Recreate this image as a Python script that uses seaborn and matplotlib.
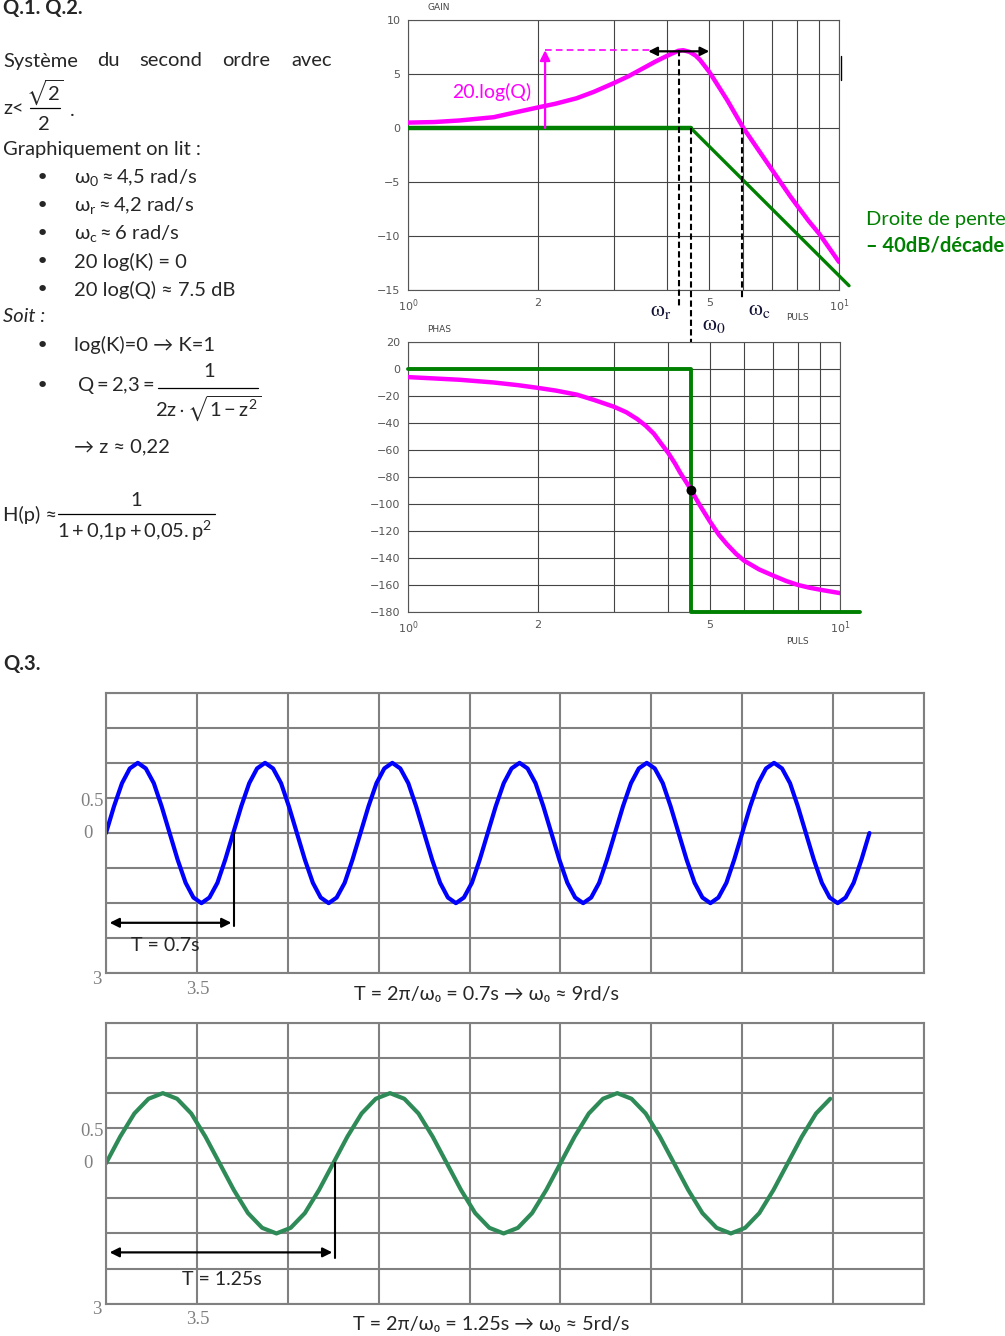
import matplotlib
matplotlib.use("Agg")
import matplotlib.pyplot as plt
from matplotlib.lines import Line2D
from matplotlib.ticker import NullFormatter
import numpy as np
import seaborn as sns

sns.set_style("white")
plt.rcParams['font.family'] = ['Lato', 'DejaVu Sans']
plt.rcParams['mathtext.fontset'] = 'custom'
plt.rcParams['mathtext.rm'] = 'Lato'
plt.rcParams['mathtext.it'] = 'Lato:italic'
plt.rcParams['mathtext.bf'] = 'Lato:bold'
plt.rcParams['mathtext.fallback'] = 'stixsans'

# --- data ---
# Bode gain (dB) vs pulsation (rad/s)
gain_w = [1.0, 1.15, 1.32, 1.58, 1.8, 2.0, 2.2, 2.46, 2.7, 3.0, 3.25, 3.5, 3.75, 4.0, 4.1,
          4.24, 4.35, 4.5, 4.65, 4.76, 5.0, 5.5, 6.0, 7.0, 7.7, 8.0, 8.5, 9.0, 10.0]
gain_db = [0.5, 0.55, 0.7, 1.0, 1.5, 1.9, 2.25, 2.75, 3.35, 4.15, 4.8, 5.5, 6.15, 6.7, 6.9,
           7.15, 7.2, 7.05, 6.7, 6.3, 5.2, 2.6, 0.0, -3.9, -6.3, -7.2, -8.6, -9.8, -12.4]
gain_asym_w = [1.0, 4.53, 10.55]
gain_asym_db = [0.0, 0.0, -14.6]

# Bode phase (deg)
phase_w = [1.0, 1.15, 1.32, 1.58, 1.8, 2.0, 2.2, 2.46, 2.7, 3.0, 3.2, 3.39, 3.55, 3.71, 3.85,
           4.0, 4.15, 4.27, 4.4, 4.53, 4.65, 4.76, 4.9, 5.0, 5.25, 5.48, 5.75, 6.0, 6.5, 7.0,
           7.5, 8.0, 8.5, 9.0, 9.5, 10.0]
phase_deg = [-6, -7, -8, -10, -12, -14, -16, -19, -23, -28, -32, -37, -42, -48, -55,
             -62, -70, -77, -83.5, -90, -96.5, -102, -108.5, -113, -123, -130, -137, -142, -148.5, -153,
             -157, -160, -162, -163.5, -164.8, -166]
phase_asym_w = [1.0, 4.53, 4.53, 11.1]
phase_asym_deg = [0, 0, -180, -180]

w_r, w_0, w_c = 4.25, 4.53, 5.97
peak_db = 7.2

cycle_y = [0, 0.38, 0.71, 0.92, 1.0, 0.92, 0.71, 0.38, 0, -0.38, -0.71, -0.92, -1.0, -0.92, -0.71, -0.38]
blue_dt = [0, 0.044, 0.088, 0.131, 0.175, 0.219, 0.263, 0.306, 0.35, 0.394, 0.438, 0.481, 0.525, 0.569, 0.613, 0.656]
blue_starts = [3.0, 3.7, 4.4, 5.1, 5.8, 6.5]
green_dt = [0, 0.078, 0.156, 0.234, 0.3125, 0.391, 0.469, 0.547, 0.625, 0.703, 0.781, 0.859, 0.9375, 1.016, 1.094, 1.172]
green_starts = [3.0, 4.25, 5.5, 6.75]

blue_t = [s + d for s in blue_starts for d in blue_dt] + [7.2]
blue_y = cycle_y * len(blue_starts) + [0.0]
green_t = [s + d for s in green_starts[:-1] for d in green_dt] + [6.75 + d for d in green_dt[:4]]
green_y = cycle_y * (len(green_starts) - 1) + cycle_y[:4]

gain_ticks = [-15, -10, -5, 0, 5, 10]
phase_ticks = list(range(-180, 21, 20))

MAG = '#FF00FF'
GRN = '#008000'
GREY = '#808080'
FS = 14.5

W, H = 1005, 1336
fig = plt.figure(figsize=(W / 100, H / 100), dpi=100)


def fx(x):
    return x / W


def fy(y):
    return 1 - y / H


def box(l, t, r, b):
    return [l / W, 1 - b / H, (r - l) / W, (b - t) / H]


def txt(x, y, s, **kw):
    kw.setdefault('va', 'center')
    kw.setdefault('fontsize', FS)
    return fig.text(fx(x), fy(y), s, **kw)


def hline(x0, x1, y, lw=0.9):
    fig.add_artist(Line2D([fx(x0), fx(x1)], [fy(y), fy(y)], transform=fig.transFigure,
                          color='black', lw=lw))


def bullet(y):
    txt(42, y, '•', ha='center', fontsize=16, family='DejaVu Sans')


# ---------------- left column text ----------------
txt(3, 8, 'Q.1. Q.2.', fontweight='bold')
for word, x in zip(['Système', 'du', 'second', 'ordre', 'avec'], [3, 97, 139, 222, 291]):
    txt(x, 61, word)
txt(3, 108, 'z<')
txt(45, 92, r'$\sqrt{2}$', ha='center')
hline(30, 60, 108)
txt(44, 125, '2', ha='center')
txt(70, 110, '.')
txt(3, 150, 'Graphiquement on lit :')

items = [r'$\mathrm{\omega_0 \approx 4{,}5\ rad/s}$',
         r'$\mathrm{\omega_r \approx 4{,}2\ rad/s}$',
         r'$\mathrm{\omega_c \approx 6\ rad/s}$',
         '20 log(K) = 0',
         '20 log(Q) ≈ 7.5 dB']
for i, s in enumerate(items):
    y = 178 + 28 * i
    bullet(y)
    txt(74, y, s)
txt(3, 317, 'Soit :', style='italic')

bullet(346)
txt(74, 345, 'log(K)=0 → K=1')
bullet(386)
txt(77, 386, r'$\mathrm{Q = 2{,}3 =}$')
txt(209, 372, '1', ha='center')
hline(158, 258, 388)
txt(208, 408, r'$\mathrm{2z}\cdot\sqrt{\mathrm{1 - z^2}}$', ha='center')
txt(74, 447, '→ z ≈ 0,22')

txt(3, 515, 'H(p) ≈')
txt(136, 500, '1', ha='center')
hline(58, 215, 514)
txt(135, 531, r'$\mathrm{1 + 0{,}1p + 0{,}05.p^2}$', ha='center')

txt(866, 219, 'Droite de pente', color=GRN, fontsize=14.5)
txt(866, 246, '– 40dB/décade', color=GRN, fontweight='bold', fontsize=14.5)
txt(3, 664, 'Q.3.', fontweight='bold')


# ---------------- Bode plots ----------------
def bode_axes(rect, ylim, yticks):
    ax = fig.add_axes(rect)
    ax.set_xscale('log')
    ax.set_xlim(1, 10)
    ax.set_ylim(*ylim)
    ax.set_xticks([1, 2, 5, 10])
    ax.set_xticklabels([r'$10^0$', '2', '5', r'$10^1$'], family='DejaVu Sans',
                       math_fontfamily='dejavusans')
    ax.set_xticks([3, 4, 6, 7, 8, 9], minor=True)
    ax.xaxis.set_minor_formatter(NullFormatter())
    ax.set_yticks(yticks)
    ax.set_yticklabels([str(v).replace('-', '\u2212') for v in yticks], family='DejaVu Sans')
    ax.grid(True, which='both', color='#444444', lw=0.8)
    ax.tick_params(which='both', labelsize=8, labelcolor='#555555', color='#555555',
                   length=4, width=0.8, pad=1.5)
    for s in ax.spines.values():
        s.set_color('#555555')
        s.set_linewidth(0.8)
    ax.set_xlabel('')
    ax.set_ylabel('')
    return ax


axg = bode_axes(box(408, 20, 839, 290), (-15, 10), gain_ticks)
sns.lineplot(x=gain_w, y=gain_db, ax=axg, color=MAG, lw=3.2, sort=False, estimator=None, zorder=4)
sns.lineplot(x=gain_asym_w[:2], y=gain_asym_db[:2], ax=axg, color=GRN, lw=3.2, sort=False,
             estimator=None, zorder=3)
sns.lineplot(x=gain_asym_w[1:], y=gain_asym_db[1:], ax=axg, color=GRN, lw=2.4, sort=False,
             estimator=None, zorder=3, clip_on=False)

axg.plot([2.08, 3.64], [peak_db, peak_db], color=MAG, ls=(0, (4, 2.5)), lw=1.2, zorder=5)
axg.annotate('', xy=(2.08, peak_db), xytext=(2.08, 0),
             arrowprops=dict(arrowstyle='-|>', color=MAG, lw=1.6, mutation_scale=15,
                             shrinkA=0, shrinkB=0), zorder=5)
axg.annotate('', xy=(3.61, 7.1), xytext=(5.0, 7.1),
             arrowprops=dict(arrowstyle='<|-|>', color='black', lw=1.6, mutation_scale=13,
                             shrinkA=0, shrinkB=0), zorder=6)
dash = (0, (3, 1.6))
axg.plot([w_r, w_r], [peak_db, -16.7], color='black', ls=dash, lw=1.5, clip_on=False, zorder=6)
axg.plot([w_0, w_0], [0, -22.4], color='black', ls=dash, lw=1.5, clip_on=False, zorder=6)
axg.plot([w_c, w_c], [0, -15.7], color='black', ls=dash, lw=1.5, clip_on=False, zorder=6)
axg.plot([10.1, 10.1], [6.7, 4.4], color='black', lw=1.0, clip_on=False)

txt(492, 92, '20.log(Q)', color=MAG, ha='center', fontsize=14)
txt(439, 7, 'GAIN', ha='center', fontsize=6.5, color='#444444', family='DejaVu Sans')
txt(797, 318, 'PULS', ha='center', fontsize=6.5, color='#444444', family='DejaVu Sans')
omega = dict(ha='center', fontsize=16, color='#111133', math_fontfamily='stix')
txt(661, 311, r'$\mathrm{\omega_r}$', **omega)
txt(714, 325, r'$\mathrm{\omega_0}$', **omega)
txt(759, 310, r'$\mathrm{\omega_c}$', **omega)

axp = bode_axes(box(408, 342, 840, 612), (-180, 20), phase_ticks)
sns.lineplot(x=phase_w, y=phase_deg, ax=axp, color=MAG, lw=3.2, sort=False, estimator=None, zorder=4)
sns.lineplot(x=phase_asym_w, y=phase_asym_deg, ax=axp, color=GRN, lw=2.8, sort=False,
             estimator=None, zorder=3, clip_on=False)
sns.scatterplot(x=[w_0], y=[-90], ax=axp, color='black', s=50, zorder=6, edgecolor='none')
txt(439, 329, 'PHAS', ha='center', fontsize=6.5, color='#444444', family='DejaVu Sans')
txt(797, 641, 'PULS', ha='center', fontsize=6.5, color='#444444', family='DejaVu Sans')


# ---------------- time responses ----------------
def sine_axes(top):
    ax = fig.add_axes(box(106, top, 924, top + 280.6))
    ax.set_xlim(3, 7.5)
    ax.set_ylim(-2, 2)
    ax.set_xticks(np.arange(3, 7.51, 0.5))
    ax.set_yticks(np.arange(-2, 2.01, 0.5))
    ax.set_xticklabels([])
    ax.set_yticklabels([])
    ax.grid(True, color=GREY, lw=1.5)
    ax.tick_params(axis='x', length=3, width=1.5, color=GREY)
    ax.tick_params(axis='y', length=0)
    for s in ax.spines.values():
        s.set_color(GREY)
        s.set_linewidth(1.5)
    return ax


serif = dict(family='Liberation Serif', color=GREY, fontsize=13.5)

ax1 = sine_axes(692.7)
sns.lineplot(x=blue_t, y=blue_y, ax=ax1, color='#0000FF', lw=3.0, sort=False, estimator=None)
ax1.annotate('', xy=(3.02, -1.28), xytext=(3.69, -1.28),
             arrowprops=dict(arrowstyle='<|-|>', color='black', lw=1.6, mutation_scale=14,
                             shrinkA=0, shrinkB=0))
ax1.plot([3.704, 3.704], [0, -1.33], color='black', lw=1.5)
ax1.text(3.325, -1.6, 'T = 0.7s', ha='center', va='center', fontsize=14)
ax1.set_xlabel('')
ax1.set_ylabel('')
txt(104, 801, '0.5', ha='right', **serif)
txt(88, 834, '0', ha='center', **serif)
txt(97, 980, '3', ha='center', **serif)
txt(198, 989, '3.5', ha='center', **serif)
txt(486, 995, 'T = 2π/ω₀ = 0.7s → ω₀ ≈ 9rd/s', ha='center', fontsize=14.2)

ax2 = sine_axes(1023.0)
sns.lineplot(x=green_t, y=green_y, ax=ax2, color='#2E8B57', lw=3.0, sort=False, estimator=None)
ax2.annotate('', xy=(3.02, -1.27), xytext=(4.245, -1.27),
             arrowprops=dict(arrowstyle='<|-|>', color='black', lw=1.6, mutation_scale=14,
                             shrinkA=0, shrinkB=0))
ax2.plot([4.26, 4.26], [0, -1.35], color='black', lw=1.5)
ax2.text(3.635, -1.65, 'T = 1.25s', ha='center', va='center', fontsize=14)
ax2.set_xlabel('')
ax2.set_ylabel('')
txt(104, 1131, '0.5', ha='right', **serif)
txt(88, 1164, '0', ha='center', **serif)
txt(97, 1310, '3', ha='center', **serif)
txt(198, 1319, '3.5', ha='center', **serif)
txt(491, 1325, 'T = 2π/ω₀ = 1.25s → ω₀ ≈ 5rd/s', ha='center', fontsize=14.2)

fig.savefig('out.png', dpi=100, facecolor='white')
